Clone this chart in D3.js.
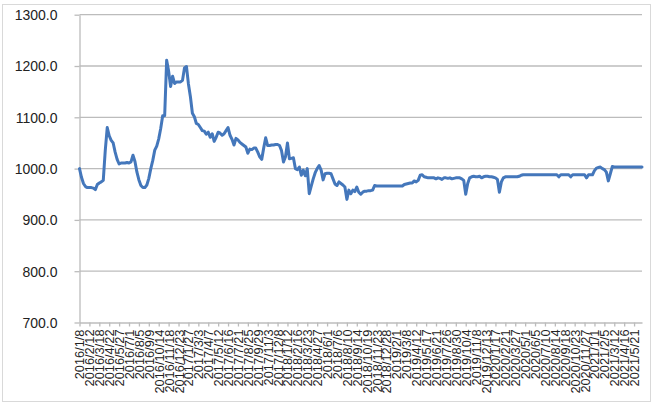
<!DOCTYPE html>
<html><head><meta charset="utf-8">
<script src="https://cdn.jsdelivr.net/npm/d3@7"></script>
<style>
html,body{margin:0;padding:0;background:#fff;}
svg{display:block;}
</style>
</head><body>
<svg id="chart" width="660" height="408"></svg>
<script>
// Weekly values, starting 2016/1/8
const values = [
1000,983,971,965,963,963,963,962,959,969,
972,974,977,1035,1080,1064,1055,1050,1032,1018,
1009,1011,1011,1011,1012,1011,1013,1026,1014,993,
978,967,963,963,968,981,1000,1016,1036,1044,
1058,1078,1103,1103,1211,1190,1160,1180,1166,1169,
1169,1169,1172,1196,1199,1165,1140,1108,1101,1088,
1086,1080,1074,1073,1067,1071,1061,1068,1053,1061,
1071,1069,1065,1068,1074,1080,1065,1057,1046,1059,
1056,1051,1048,1045,1042,1030,1038,1037,1040,1040,
1032,1023,1018,1040,1060,1045,1045,1046,1046,1047,
1047,1045,1035,1013,1023,1050,1019,1020,1021,1000,
998,1003,987,997,986,1000,951,966,980,992,
1000,1006,997,978,990,991,991,990,980,970,
967,974,971,968,964,940,958,951,958,955,
964,954,950,954,956,956,957,957,958,967,
966,966,966,966,966,966,966,966,966,966,
966,966,966,966,969,970,971,972,972,976,
974,977,987,988,984,983,982,982,982,982,
980,982,981,979,982,982,981,982,980,981,
982,982,982,980,977,950,971,982,984,985,
984,984,985,982,984,985,985,984,984,983,
982,979,954,974,982,984,984,984,984,984,
984,984,985,987,988,988,988,988,988,988,
988,988,988,988,988,988,988,988,988,988,
988,988,984,988,988,988,988,988,984,988,
988,988,988,988,988,988,982,988,988,988,
996,1001,1002,1003,1000,998,993,976,990,1004,
1003,1003,1003,1003,1003,1003,1003,1003,1003,1003,
1003,1003,1003,1003,1003
];
// Category labels shown every 5th week
const xLabels = [
"2016/1/8","2016/2/12","2016/3/18","2016/4/22","2016/5/27","2016/7/1","2016/8/5","2016/9/9","2016/10/14","2016/11/18",
"2016/12/23","2017/1/27","2017/3/3","2017/4/7","2017/5/12","2017/6/16","2017/7/21","2017/8/25","2017/9/29","2017/11/3",
"2017/12/8","2018/1/12","2018/2/16","2018/3/23","2018/4/27","2018/6/1","2018/7/6","2018/8/10","2018/9/14","2018/10/19",
"2018/11/23","2018/12/28","2019/2/1","2019/3/8","2019/4/12","2019/5/17","2019/6/21","2019/7/26","2019/8/30","2019/10/4",
"2019/11/8","2019/12/13","2020/1/17","2020/2/21","2020/3/27","2020/5/1","2020/6/5","2020/7/10","2020/8/14","2020/9/18",
"2020/10/23","2020/11/27","2021/1/1","2021/2/5","2021/3/12","2021/4/16","2021/5/21"
];
const labelStep = 5;
const yTicks = [700, 800, 900, 1000, 1100, 1200, 1300];

const svg = d3.select("#chart");
const mLeft = 79.5, mRight = 642, mTop = 14.7, mBottom = 322.5;

svg.append("rect").attr("x", 2.5).attr("y", 4.5).attr("width", 648).attr("height", 397)
  .attr("fill", "#fff").attr("stroke", "#d9d9d9").attr("stroke-width", 1);

const x = d3.scaleLinear().domain([0, values.length - 1]).range([mLeft, mRight]);
const y = d3.scaleLinear().domain([700, 1300]).range([mBottom, mTop]);

// gridlines
svg.append("g").selectAll("line").data(yTicks.slice(1)).join("line")
  .attr("x1", mLeft).attr("x2", mRight)
  .attr("y1", d => y(d)).attr("y2", d => y(d))
  .attr("stroke", "#bcbcbc").attr("stroke-width", 1.3);

// y axis
const yAxis = svg.append("g").attr("transform", `translate(${mLeft},0)`)
  .call(d3.axisLeft(y).tickValues(yTicks).tickFormat(d => d.toFixed(1)).tickSize(5).tickSizeOuter(0));
yAxis.select(".domain").attr("stroke", "#bcbcbc").attr("stroke-width", 1.3);
yAxis.selectAll(".tick line").attr("stroke", "#bcbcbc").attr("stroke-width", 1.3);
yAxis.selectAll(".tick text").attr("x", -22).attr("dy", "0.35em")
  .style("font-family", "'Liberation Sans', Arial, sans-serif").style("font-size", "14px").attr("fill", "#222");

// x axis
const xAxis = svg.append("g").attr("transform", `translate(0,${mBottom})`)
  .call(d3.axisBottom(x).tickValues(d3.range(0, xLabels.length * labelStep, labelStep))
    .tickFormat((d, i) => xLabels[i]).tickSize(4).tickSizeOuter(0));
xAxis.select(".domain").attr("stroke", "#bcbcbc").attr("stroke-width", 1.3);
xAxis.selectAll(".tick line").attr("stroke", "#bcbcbc").attr("stroke-width", 1.3);
xAxis.selectAll(".tick text")
  .attr("transform", "rotate(-90)")
  .attr("x", -7).attr("y", 0).attr("dy", "0.35em")
  .style("text-anchor", "end")
  .style("font-family", "'Liberation Sans', Arial, sans-serif").style("font-size", "12.8px").attr("fill", "#222");

// line
svg.append("path").datum(values)
  .attr("fill", "none").attr("stroke", "#4477bb").attr("stroke-width", 3)
  .attr("stroke-linejoin", "round").attr("stroke-linecap", "round")
  .attr("d", d3.line().x((d, i) => x(i)).y(d => y(d)));
</script>
</body></html>
